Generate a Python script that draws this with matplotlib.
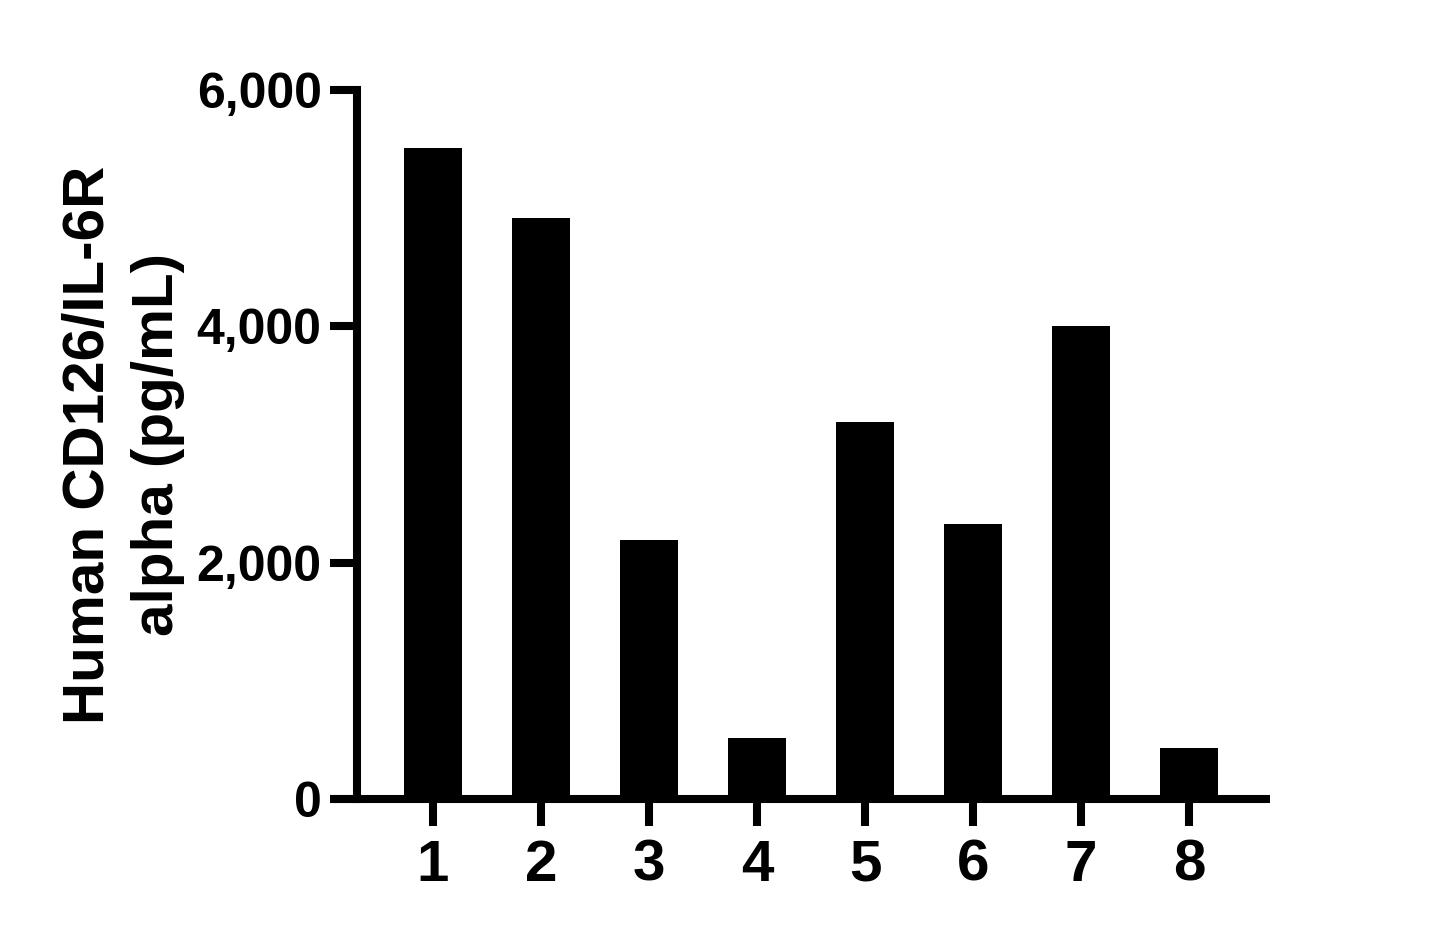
import matplotlib
matplotlib.use("Agg")
import matplotlib.pyplot as plt

categories = ["1", "2", "3", "4", "5", "6", "7", "8"]
values = [5510, 4917, 2192, 516, 3190, 2327, 4003, 432]
yticks = [0, 2000, 4000, 6000]
ytick_labels = ["0", "2,000", "4,000", "6,000"]
ylabel = "Human CD126/IL-6R\nalpha (pg/mL)"

plt.rcParams['font.family'] = ['Liberation Sans', 'DejaVu Sans']
plt.rcParams['font.weight'] = 'bold'

fig = plt.figure(figsize=(14.48, 9.39), dpi=100)
ax = fig.add_axes([330/1448, 140/939, 940/1448, 709/939])

x = list(range(1, len(categories) + 1))
ax.bar(x, values, width=0.545, color='black', edgecolor='none', zorder=1)

ax.set_xlim(1 - 103/108, 8 + 81/108)
ax.set_ylim(0, 6000)

lw = 5.8
for s in ['top', 'right']:
    ax.spines[s].set_visible(False)
ax.spines['left'].set_position(('data', 1 - 76/108))
ax.spines['left'].set_linewidth(lw)
ax.spines['bottom'].set_linewidth(lw)
ax.spines['left'].set_capstyle('projecting')
ax.spines['bottom'].set_capstyle('butt')
ax.spines['left'].set_zorder(3)
ax.spines['bottom'].set_zorder(3)

ax.set_xticks(x)
ax.set_xticklabels(categories, fontsize=42, fontweight='bold')
ax.set_yticks(yticks)
ax.set_yticklabels(ytick_labels, fontsize=36, fontweight='bold')
ax.tick_params(axis='both', direction='out', length=19.5, width=lw, color='black')
ax.tick_params(axis='x', pad=9)
ax.tick_params(axis='y', pad=6)

ax.set_ylabel(ylabel, fontsize=42, fontweight='bold', linespacing=1.38, labelpad=8)

fig.savefig("out.png", dpi=100, facecolor='white')
